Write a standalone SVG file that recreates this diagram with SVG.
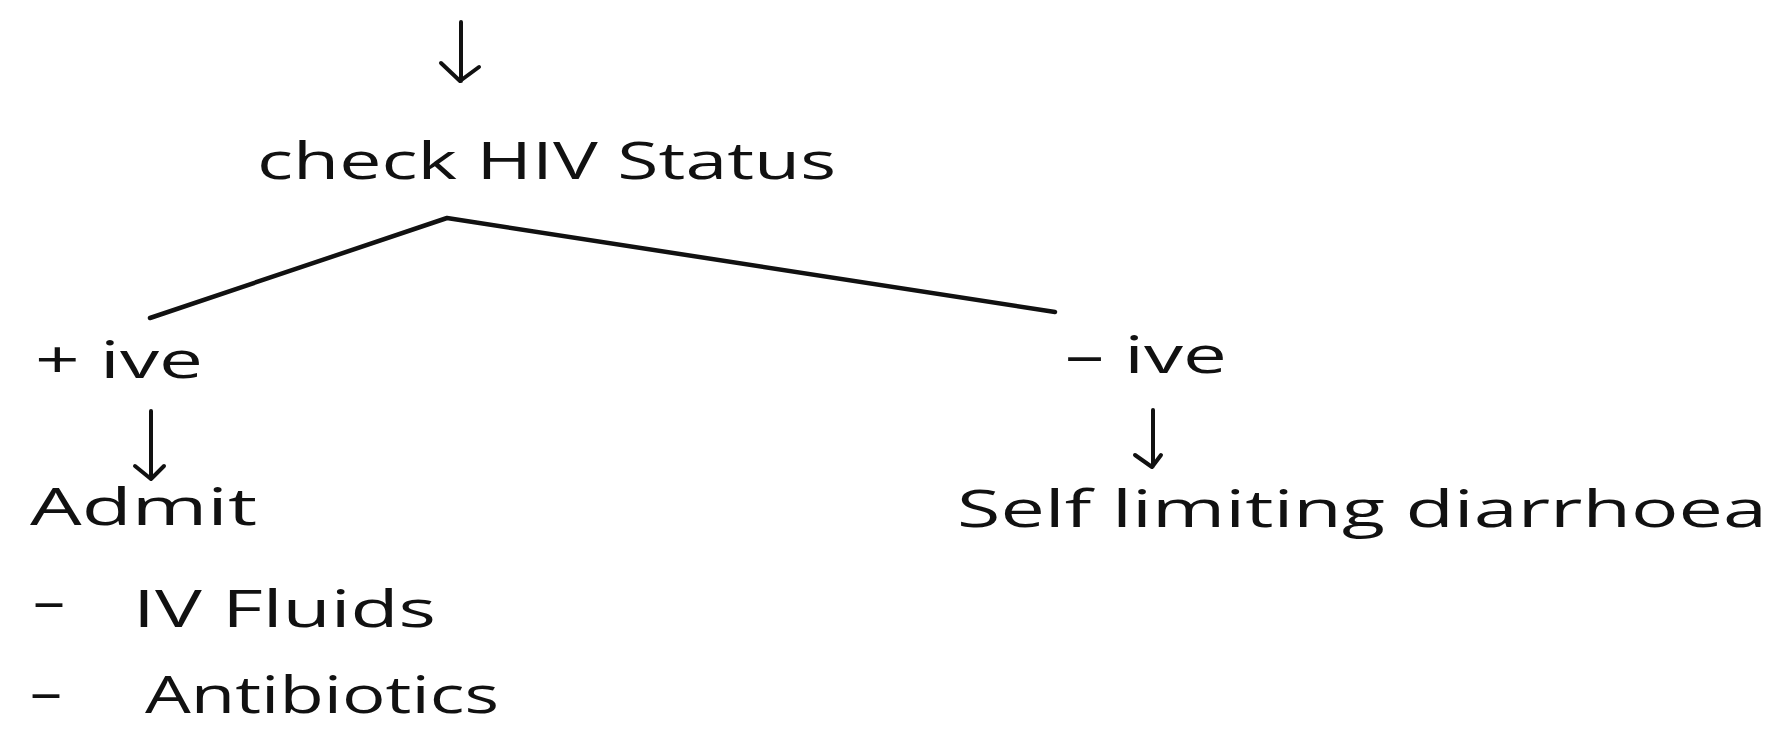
<svg xmlns="http://www.w3.org/2000/svg" width="1775" height="730" viewBox="0 0 1775 730">
<defs>
<style>
.t{font-family:"Open Sans","DejaVu Sans",sans-serif;font-size:52px;fill:#111;}
.ln{stroke:#111;stroke-width:4.5;fill:none;stroke-linecap:round;stroke-linejoin:round;}
.ar{stroke:#111;stroke-width:4;fill:none;stroke-linecap:round;stroke-linejoin:round;}
</style>
</defs>
<rect width="1775" height="730" fill="#fff"/>
<g id="connectors">
<path class="ar" d="M461 22 V81 M441 63 L460 81 L479 67"/>
<path class="ln" d="M150 318 L447 218 L1055 312"/>
<path class="ar" d="M151 411 V479 M135 466 L151 479 L164 466"/>
<path class="ar" d="M1153 410 V466 M1135 455 L1152 467 L1161 455"/>
</g>
<g id="check"><text class="t" x="257" y="179" textLength="579" lengthAdjust="spacingAndGlyphs">check HIV Status</text></g>
<g id="pos"><text class="t" x="35" y="378" textLength="168" lengthAdjust="spacingAndGlyphs">+ ive</text></g>
<g id="admit">
<text class="t" x="30" y="525" textLength="227" lengthAdjust="spacingAndGlyphs">Admit</text>
<text class="t" x="33" y="619" textLength="32" lengthAdjust="spacingAndGlyphs">–</text>
<text class="t" x="133" y="627" textLength="303" lengthAdjust="spacingAndGlyphs">IV Fluids</text>
<text class="t" x="30" y="710" textLength="32" lengthAdjust="spacingAndGlyphs">–</text>
<text class="t" x="145" y="713" textLength="354" lengthAdjust="spacingAndGlyphs">Antibiotics</text>
</g>
<g id="neg"><text class="t" x="1065" y="373" textLength="162" lengthAdjust="spacingAndGlyphs">– ive</text></g>
<g id="self"><text class="t" x="957" y="527" textLength="810" lengthAdjust="spacingAndGlyphs">Self limiting diarrhoea</text></g>
</svg>
